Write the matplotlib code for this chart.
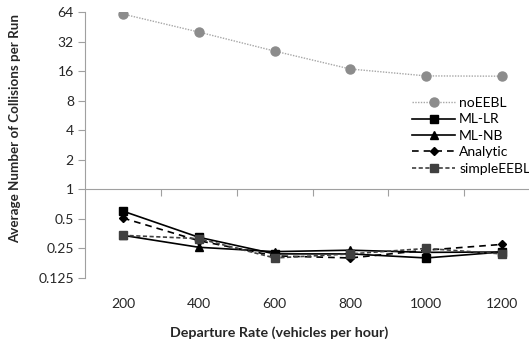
import matplotlib

matplotlib.use("Agg")
import matplotlib.pyplot as plt
from matplotlib.ticker import FixedLocator, NullFormatter

plt.rcParams["font.family"] = ["Lato", "DejaVu Sans"]

rates = ["200", "400", "600", "800", "1000", "1200"]
no_eebl = [61, 40, 25.6, 16.8, 14.3, 14.2]
ml_lr = [0.60, 0.325, 0.22, 0.22, 0.20, 0.23]
ml_nb = [0.34, 0.257, 0.232, 0.24, 0.228, 0.23]
analytic = [0.51, 0.30, 0.21, 0.20, 0.24, 0.275]
simple_eebl = [0.34, 0.315, 0.20, 0.22, 0.25, 0.22]
y_ticks = [0.125, 0.25, 0.5, 1, 2, 4, 8, 16, 32, 64]
y_tick_labels = ["0.125", "0.25", "0.5", "1", "2", "4", "8", "16", "32", "64"]

W, H = 529, 349
fig = plt.figure(figsize=(W / 100, H / 100), dpi=100)
fig.patch.set_facecolor("white")
left, right, top, bottom = 85, 540, 12, 278
ax = fig.add_axes([left / W, 1 - bottom / H, (right - left) / W, (bottom - top) / H])

x = list(range(len(rates)))
ax.plot(x, no_eebl, color="#a6a6a6", linestyle=(0, (1, 1)), linewidth=1.0,
        marker="o", markersize=6.5, markerfacecolor="#8c8c8c", markeredgecolor="#8c8c8c",
        label="noEEBL")
ax.plot(x, ml_lr, color="black", linewidth=1.2, marker="s", markersize=5.5, label="ML-LR")
ax.plot(x, ml_nb, color="black", linewidth=1.2, marker="^", markersize=5.5, label="ML-NB")
ax.plot(x, analytic, color="black", linewidth=1.2, linestyle=(0, (4, 3)),
        marker="D", markersize=4.5, label="Analytic")
ax.plot(x, simple_eebl, color="#404040", linewidth=1.2, linestyle=(0, (2.5, 1.5)),
        marker="s", markersize=6, label="simpleEEBL")

ax.set_yscale("log", base=2)
ax.set_ylim(0.125, 64)
ax.set_xlim(-0.5, len(rates) - 0.5)

ax.yaxis.set_major_locator(FixedLocator(y_ticks))
ax.set_yticklabels(y_tick_labels)
ax.yaxis.set_minor_formatter(NullFormatter())
ax.yaxis.set_minor_locator(FixedLocator([]))
ax.tick_params(axis="y", direction="out", length=5, width=0.8, color="#a0a0a0",
               labelsize=10, labelcolor="#262626", pad=3)

for side in ["top", "right"]:
    ax.spines[side].set_visible(False)
ax.spines["left"].set_color("#a0a0a0")
ax.spines["bottom"].set_color("#a0a0a0")
ax.spines["bottom"].set_position(("data", 1))

ax.set_xticks(x)
ax.set_xticklabels(rates)
ax.xaxis.set_minor_locator(FixedLocator([i + 0.5 for i in x]))
ax.tick_params(axis="x", which="major", length=0, labelsize=10, labelcolor="#262626", pad=78)
ax.tick_params(axis="x", which="minor", direction="out", length=5, width=0.8, color="#a0a0a0")

fig.text(15 / W, 1 - 129 / H, "Average Number of Collisions per Run", rotation=90,
         ha="center", va="center", fontsize=9.6, fontweight="bold", color="#262626")
fig.text(279 / W, 1 - 333 / H, "Departure Rate (vehicles per hour)",
         ha="center", va="center", fontsize=10.3, fontweight="bold", color="#262626")

ax.legend(loc="upper left", bbox_to_anchor=(412 / W, 1 - 97 / H), bbox_transform=fig.transFigure,
          frameon=False, fontsize=10, handlelength=3.1, handletextpad=0.3,
          labelspacing=0.32, borderaxespad=0, borderpad=0)

fig.savefig("out.png", dpi=100)
